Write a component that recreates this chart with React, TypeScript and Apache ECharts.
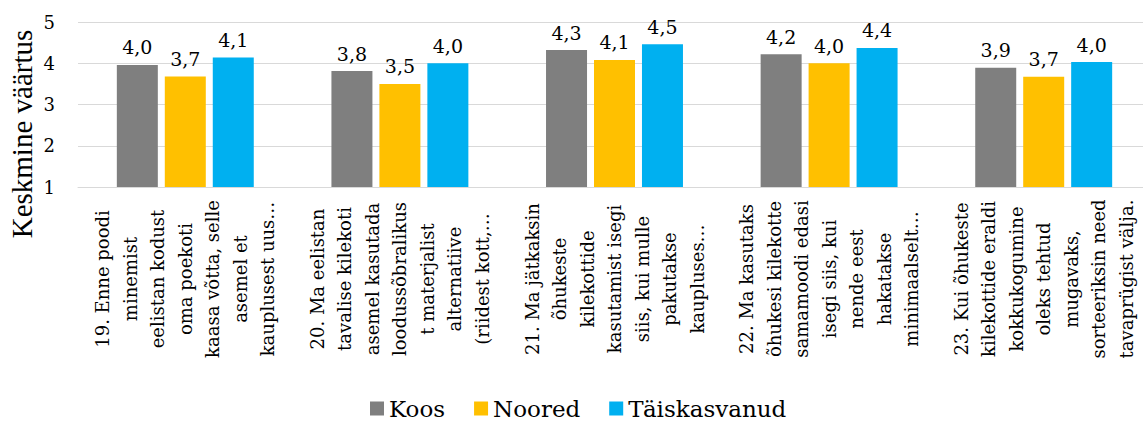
import React, { useEffect, useRef } from "react";
import * as echarts from "echarts";

const categories = [
  "19. Enne poodi\nminemist\neelistan kodust\noma poekoti\nkaasa võtta, selle\nasemel et\nkauplusest uus…",
  "20. Ma eelistan\ntavalise kilekoti\nasemel kasutada\nloodussõbralikus\nt materjalist\nalternatiive\n(riidest kott,…",
  "21. Ma jätkaksin\nõhukeste\nkilekottide\nkasutamist isegi\nsiis, kui mulle\npakutakse\nkaupluses…",
  "22. Ma kasutaks\nõhukesi kilekotte\nsamamoodi edasi\nisegi siis, kui\nnende eest\nhakatakse\nminimaalselt…",
  "23. Kui õhukeste\nkilekottide eraldi\nkokkukogumine\noleks tehtud\nmugavaks,\nsorteeriksin need\ntavaprügist välja.",
];

const seriesNames = ["Koos", "Noored", "Täiskasvanud"];
const koos = [3.96, 3.81, 4.32, 4.22, 3.89];
const noored = [3.68, 3.5, 4.08, 4.0, 3.67];
const taiskasvanud = [4.14, 4.0, 4.46, 4.37, 4.03];
const seriesColors = ["#7F7F7F", "#FFC000", "#00B0F0"];

const yTicks = { min: 1, max: 5, interval: 1 };
const yTitle = "Keskmine väärtus";

const TITLE_FONT = "Liberation Serif";
const FONT = "DejaVu Serif";

export default function App() {
  const ref = useRef<HTMLDivElement>(null);
  useEffect(() => {
    if (!ref.current) return;
    const chart = echarts.init(ref.current, undefined, { renderer: "svg" });
    const data = [koos, noored, taiskasvanud];
    chart.setOption({
      animation: false,
      backgroundColor: "#ffffff",
      grid: {
        left: 78,
        top: 22,
        width: 1073,
        height: 165,
        containLabel: false,
        outerBoundsMode: "none",
      },
      legend: {
        left: 365,
        top: 392,
        itemWidth: 14,
        itemHeight: 14,
        itemGap: 29,
        icon: "rect",
        textStyle: { fontFamily: FONT, fontSize: 23, color: "#000" },
        data: seriesNames,
      },
      xAxis: {
        type: "category",
        data: categories,
        axisLine: { show: true, lineStyle: { color: "#D9D9D9", width: 1 } },
        axisTick: { show: false },
        axisLabel: {
          interval: 0,
          rotate: 90,
          align: "center",
          verticalAlign: "middle",
          margin: 92,
          fontFamily: FONT,
          fontSize: 18,
          lineHeight: 27.5,
          color: "#000",
        },
      },
      yAxis: {
        type: "value",
        min: yTicks.min,
        max: yTicks.max,
        interval: yTicks.interval,
        axisLine: { show: false },
        axisTick: { show: false },
        splitLine: { lineStyle: { color: "#D9D9D9", width: 1 } },
        axisLabel: { margin: 23, fontFamily: FONT, fontSize: 18, color: "#000" },
      },
      graphic: [
        {
          type: "text",
          x: 22,
          y: 134,
          rotation: Math.PI / 2,
          style: {
            text: yTitle,
            font: `29px ${TITLE_FONT}`,
            fill: "#000",
            textAlign: "center",
            textVerticalAlign: "middle",
          },
        },
      ],
      series: seriesNames.map((name, i) => ({
        name,
        type: "bar",
        data: data[i],
        barWidth: 41,
        barGap: "17%",
        itemStyle: { color: seriesColors[i] },
        label: {
          show: true,
          position: "top",
          distance: 8,
          fontFamily: FONT,
          fontSize: 19,
          color: "#000",
          formatter: (p: any) => p.value.toFixed(1).replace(".", ","),
        },
      })),
    });
    return () => chart.dispose();
  }, []);
  return (
    <div
      ref={ref}
      style={{ position: "fixed", left: 0, top: 0, width: 1143, height: 421, background: "#fff" }}
    />
  );
}
